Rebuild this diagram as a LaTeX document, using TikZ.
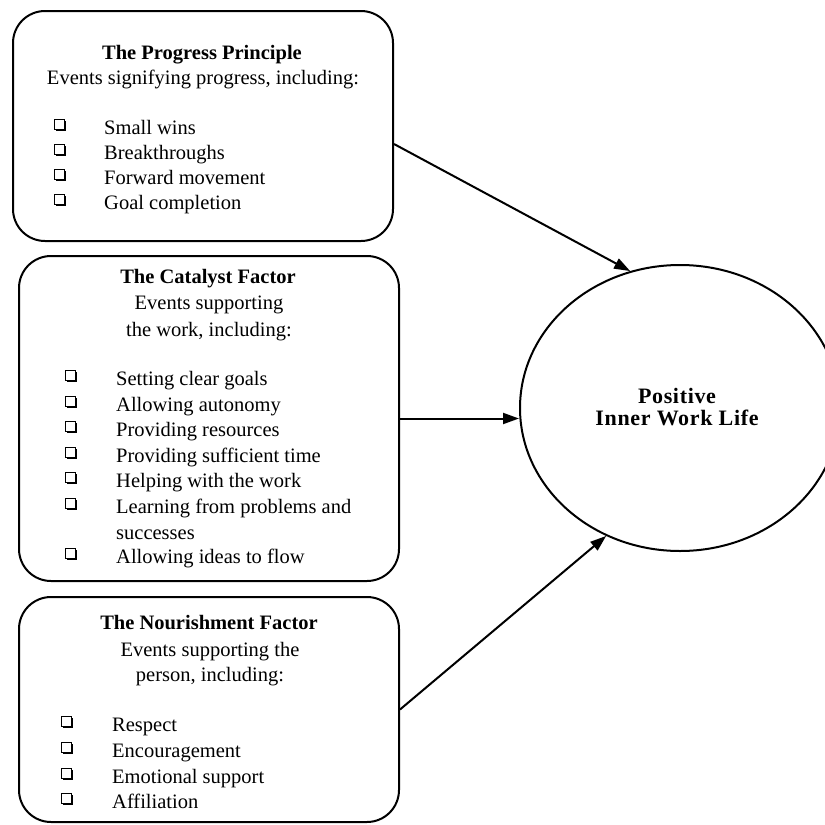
\documentclass[tikz,border=0pt]{standalone}
\usepackage{fontspec}
\setmainfont{Liberation Serif}
\usetikzlibrary{arrows.meta,shapes.geometric,shadows}

\begin{document}
\begin{tikzpicture}[x=1pt,y=-1pt,
  panel/.style={draw, line width=2pt, rounded corners=32pt, inner sep=0pt, anchor=north west},
  heading/.style={font=\fontsize{20.5}{25}\selectfont\bfseries, inner sep=0pt, anchor=mid, yshift=-4pt},
  subhead/.style={font=\fontsize{20.5}{25}\selectfont, inner sep=0pt, anchor=mid, yshift=-4pt},
  entry/.style={font=\fontsize{20.5}{25}\selectfont, inner sep=0pt, anchor=mid west, yshift=-4pt},
  tick/.style={draw, fill=white, line width=0.9pt, minimum size=10pt, inner sep=0pt,
    anchor=center, yshift=4pt,
    drop shadow={shadow xshift=1.7pt, shadow yshift=-1.7pt, opacity=1, fill=black}},
  goal/.style={draw, ellipse, line width=2pt, inner sep=0pt},
  goaltext/.style={font=\addfontfeature{LetterSpace=3}\fontsize{22}{22}\selectfont\bfseries, inner sep=0pt, anchor=mid, yshift=-4pt},
  link/.style={line width=2pt, -{Triangle[length=16pt,width=11pt]}},
]
\useasboundingbox (0,0) rectangle (825,825);

% --- The Progress Principle ---
\node[panel, minimum width=380pt, minimum height=230pt] (progress) at (12,10) {};
\node[heading] (progressTitle) at (202,53) {The Progress Principle};
\node[subhead] (progressSub) at (203,78) {Events signifying progress, including:};
\foreach \yy/\txt [count=\i] in {128/Small wins, 153/Breakthroughs, 178/Forward movement, 203/Goal completion}{
  \node[tick] (progressBox\i) at (59,\yy) {};
  \node[entry] (progressItem\i) at (104,\yy) {\txt};
}

% --- The Catalyst Factor ---
\node[panel, minimum width=380pt, minimum height=325pt] (catalyst) at (18,255) {};
\node[heading] (catalystTitle) at (208,277) {The Catalyst Factor};
\node[subhead] (catalystSubA) at (209,303) {Events supporting};
\node[subhead] (catalystSubB) at (209,330) {the work, including:};
\foreach \yy/\txt [count=\i] in {379/Setting clear goals, 405/Allowing autonomy, 430/Providing resources, 456/Providing sufficient time, 481/Helping with the work, 507/Learning from problems and, 557/Allowing ideas to flow}{
  \node[tick] (catalystBox\i) at (70,\yy) {};
  \node[entry] (catalystItem\i) at (116,\yy) {\txt};
}
\node[entry] (catalystWrap) at (116,533) {successes};

% --- The Nourishment Factor ---
\node[panel, minimum width=380pt, minimum height=225pt] (nourish) at (18,596) {};
\node[heading] (nourishTitle) at (209,623) {The Nourishment Factor};
\node[subhead] (nourishSubA) at (210,650) {Events supporting the};
\node[subhead] (nourishSubB) at (210,675) {person, including:};
\foreach \yy/\txt [count=\i] in {725/Respect, 751/Encouragement, 777/Emotional support, 802/Affiliation}{
  \node[tick] (nourishBox\i) at (66,\yy) {};
  \node[entry] (nourishItem\i) at (112,\yy) {\txt};
}

% --- Outcome ---
\node[goal, minimum width=320pt, minimum height=286pt] (life) at (680,408) {};
\node[goaltext] (lifeA) at (677,397) {Positive};
\node[goaltext] (lifeB) at (677,419) {Inner Work Life};

% --- Connectors ---
\draw[link] ([yshift=-18pt]progress.east) -- (life.110);
\draw[link] (catalyst.east) -- (catalyst.east -| life.west);
\draw[link] (nourish.east) -- (life.240);
\end{tikzpicture}
\end{document}
